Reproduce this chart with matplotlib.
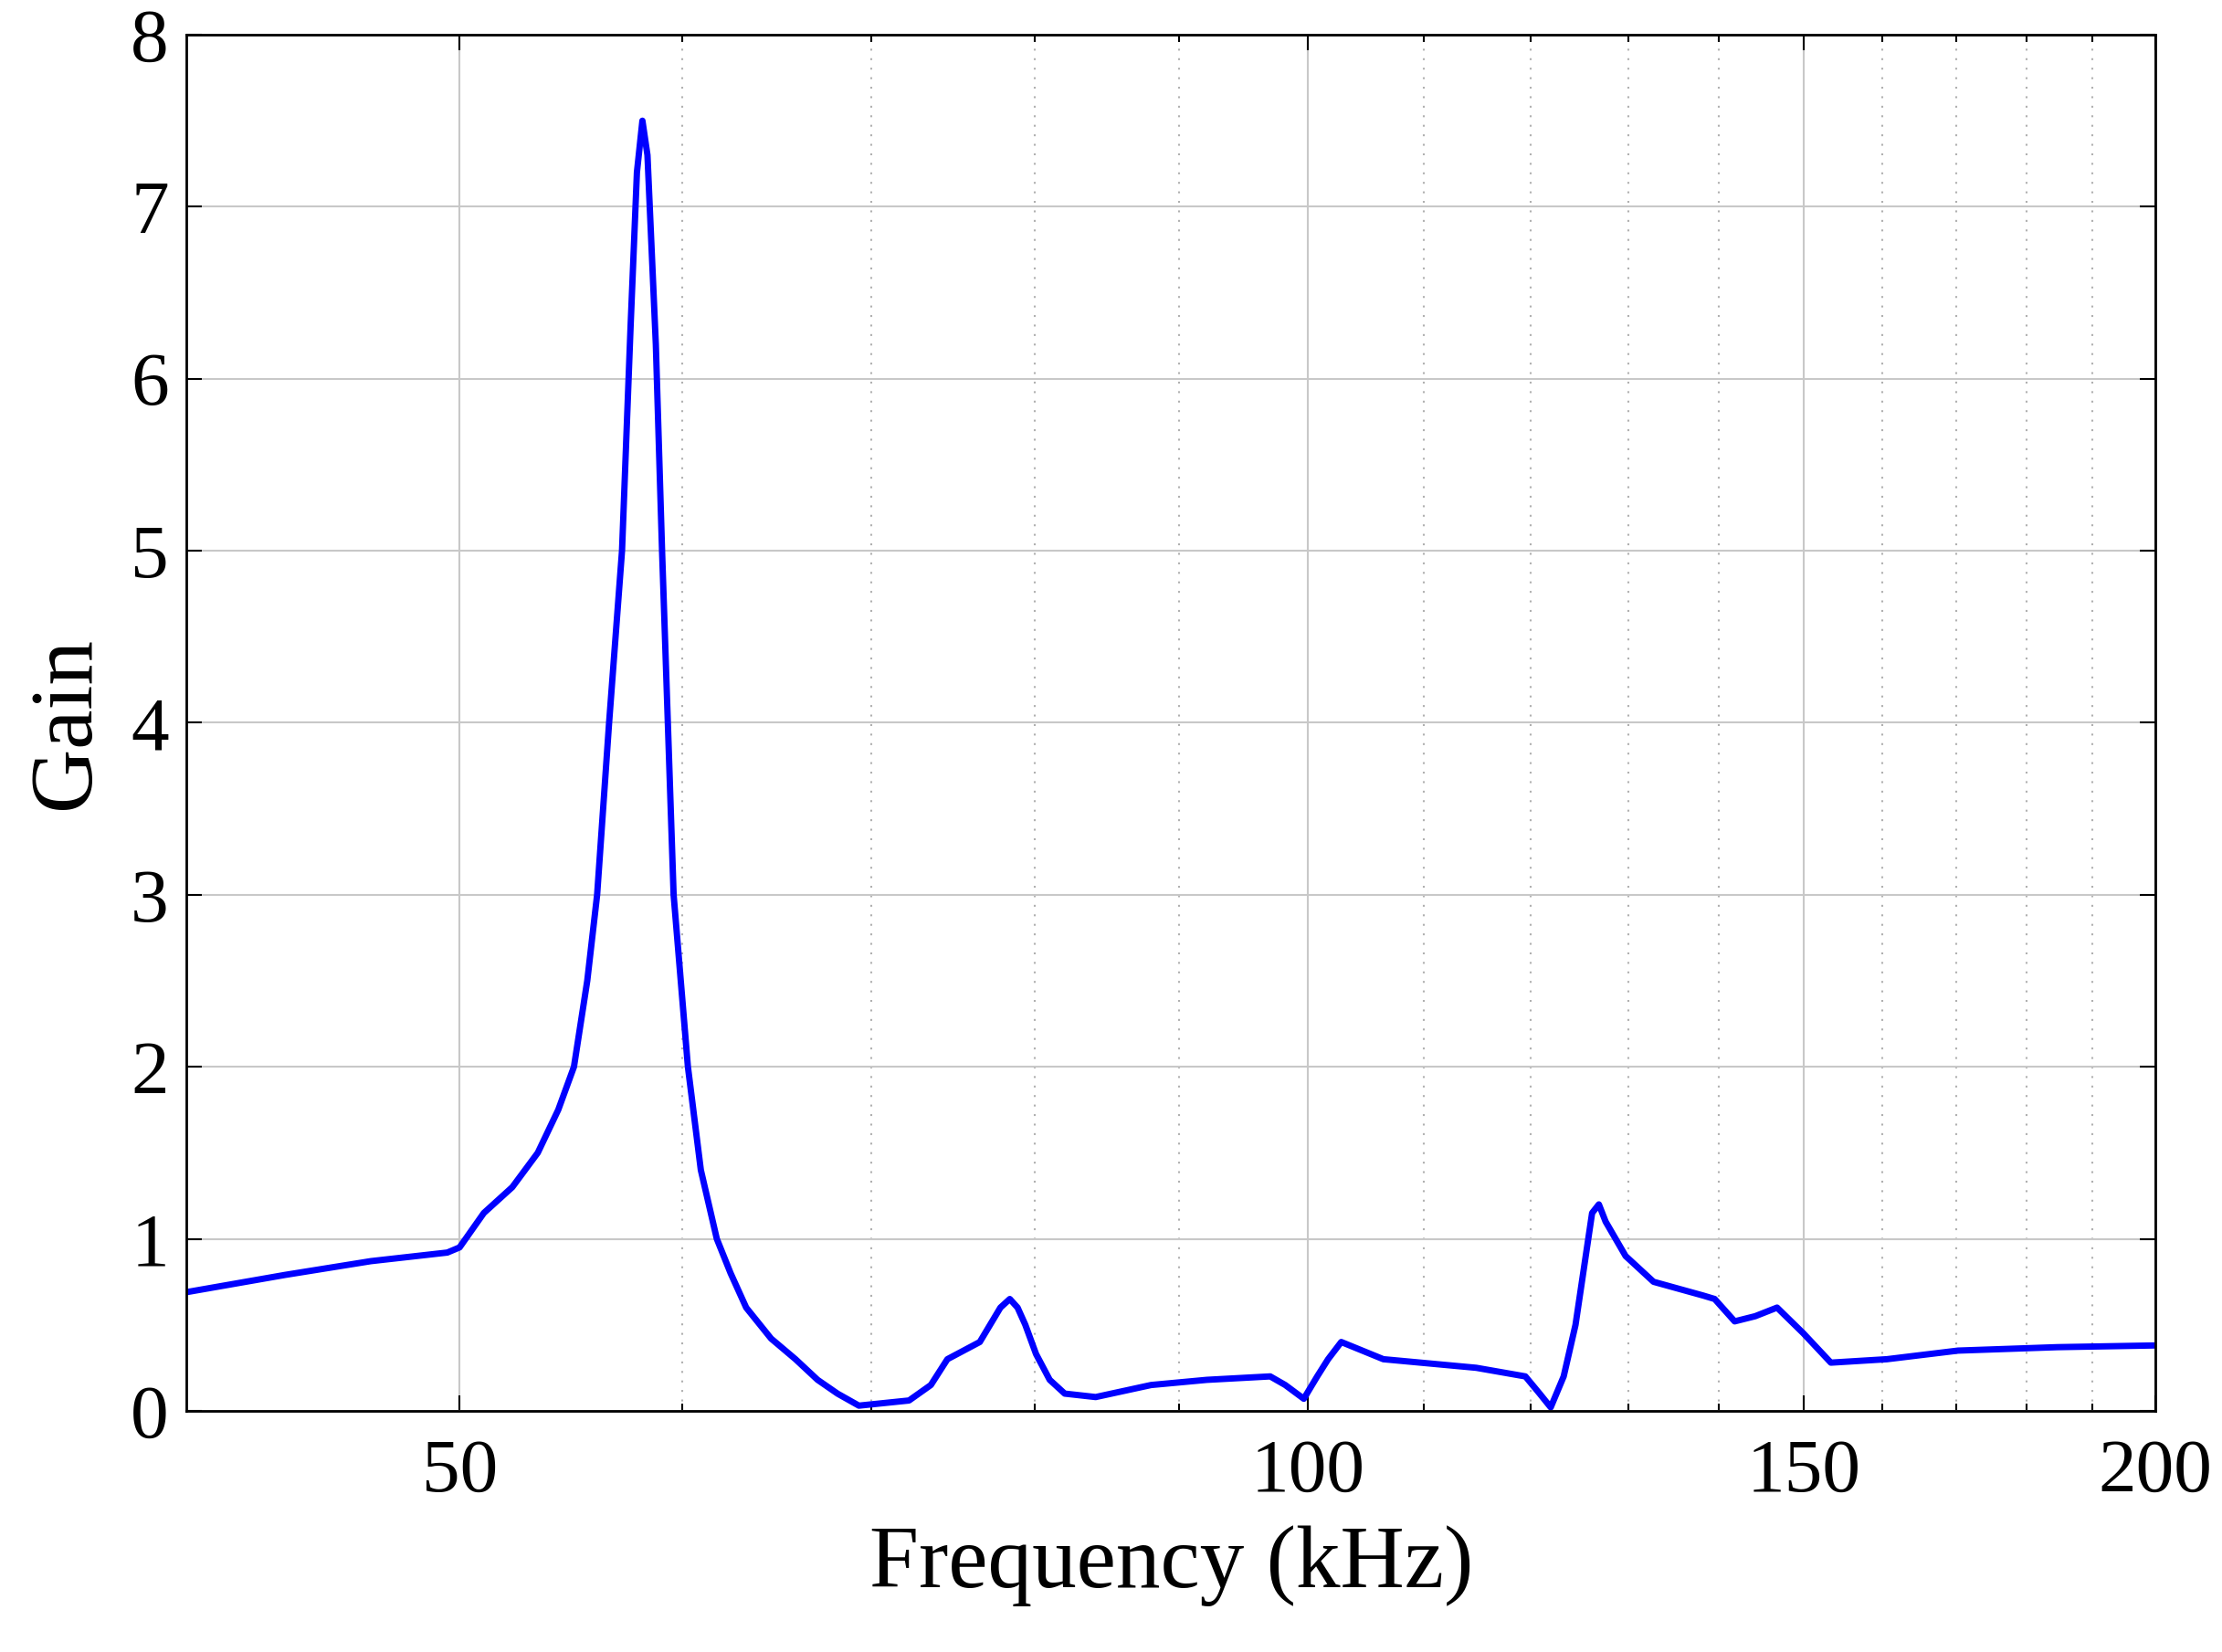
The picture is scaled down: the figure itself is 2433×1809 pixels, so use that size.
import matplotlib
matplotlib.use("Agg")
import matplotlib.pyplot as plt
from matplotlib.ticker import FixedLocator, NullFormatter

freq_khz = [40.0, 43.35, 46.5, 49.5, 50.0, 51.0, 52.2, 53.3, 54.2, 54.9, 55.5, 55.95, 56.5, 57.1, 57.5,
            57.8, 58.06, 58.3, 58.7, 59.0, 59.56, 60.26, 60.9, 61.7, 62.4, 63.2, 64.5, 65.8, 67.0,
            68.1, 69.3, 72.2, 73.5, 74.5, 76.5, 77.8, 78.4, 78.9, 79.4, 80.1, 81.0, 82.0, 84.1,
            88.0, 92.1, 97.0, 98.2, 99.7, 100.8, 101.7, 102.8, 106.4, 114.8,
            119.5, 120.9, 122.0, 123.3, 124.5, 126.2, 126.9, 127.6, 129.7, 132.7, 138.2, 139.5,
            141.8, 144.2, 146.8, 150.0, 153.4, 160.6, 170.2, 184.6, 200.0]
gain = [0.69, 0.79, 0.87, 0.92, 0.95, 1.15, 1.3, 1.5, 1.75, 2.0, 2.5, 3.0, 4.0, 5.0, 6.3,
        7.2, 7.5, 7.3, 6.2, 5.0, 3.0, 2.0, 1.4, 1.0, 0.8, 0.6, 0.42, 0.3, 0.18,
        0.1, 0.03, 0.06, 0.15, 0.3, 0.4, 0.6, 0.65, 0.6, 0.5, 0.33, 0.18, 0.1, 0.08,
        0.15, 0.18, 0.2, 0.15, 0.07, 0.2, 0.3, 0.4, 0.3, 0.25,
        0.2, 0.1, 0.02, 0.2, 0.5, 1.15, 1.2, 1.1, 0.9, 0.75, 0.67, 0.65,
        0.52, 0.55, 0.6, 0.45, 0.28, 0.3, 0.35, 0.37, 0.38]

xticks = [50, 100, 150, 200]
xticklabels = ["50", "100", "150", "200"]
minor_x = [60, 70, 80, 90, 110, 120, 130, 140, 160, 170, 180, 190]

plt.rcParams['font.family'] = ['Liberation Serif', 'DejaVu Serif']
fig = plt.figure(figsize=(24.33, 18.09), dpi=100)
ax = fig.add_axes([0.084, 0.146, 0.886, 0.833])
ax.plot(freq_khz, gain, color='#0000ff', lw=5, solid_joinstyle='round')
ax.set_xscale('log')
ax.set_xlim(40, 200)
ax.set_ylim(0, 8)
ax.xaxis.set_major_locator(FixedLocator(xticks))
ax.set_xticklabels(xticklabels)
ax.xaxis.set_minor_locator(FixedLocator(minor_x))
ax.xaxis.set_minor_formatter(NullFormatter())
ax.set_yticks(range(9))
ax.grid(True, which='major', color='#c8c8c8', lw=1.5)
ax.grid(True, which='minor', axis='x', color='#b0b0b0', lw=1.5, ls=(0, (1, 4)))
ax.tick_params(which='both', direction='in', top=True, right=True, labelsize=60, length=12, width=1.5)
ax.tick_params(axis='x', pad=22)
ax.tick_params(axis='y', pad=14)
ax.tick_params(which='minor', length=6)
for s in ax.spines.values():
    s.set_linewidth(2)
ax.set_xlabel('Frequency (kHz)', fontsize=70, labelpad=14)
ax.set_ylabel('Gain', fontsize=70, labelpad=18)
fig.savefig('out.png', dpi=100)
